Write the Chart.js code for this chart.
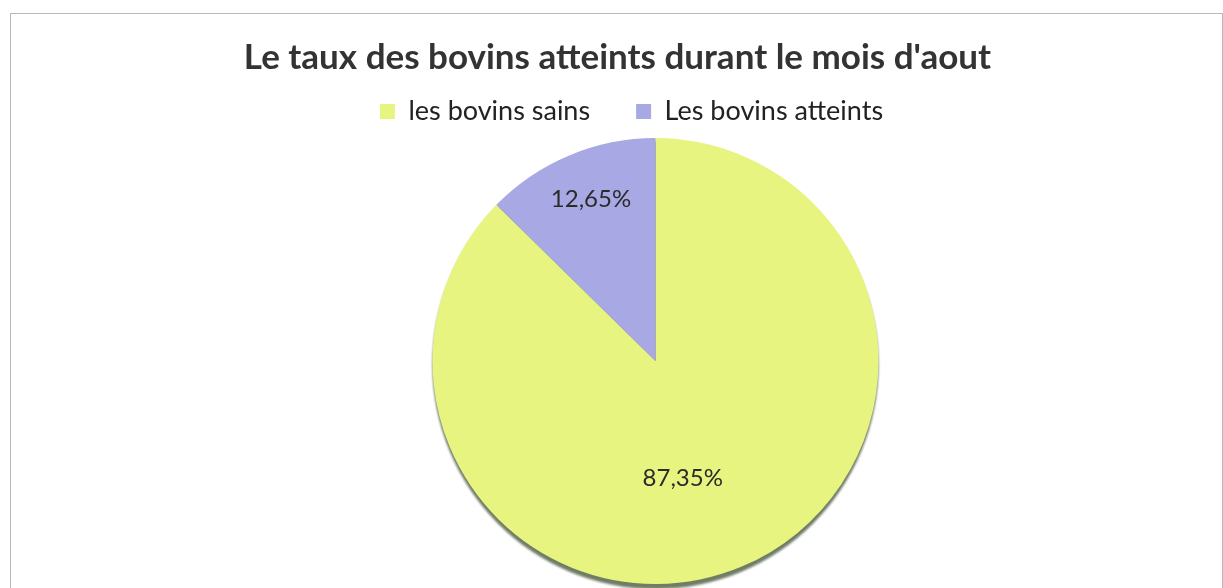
<!DOCTYPE html>
<html>
<head>
<meta charset="utf-8">
<title>Le taux des bovins atteints</title>
<script src="https://cdn.jsdelivr.net/npm/chart.js"></script>
<style>
  html, body { margin: 0; padding: 0; background: #fff; }
  #frame { position: absolute; left: 10px; top: 13px; width: 1211px; height: 620px; border: 1px solid #b8b8b8; }
  #wrap { position: absolute; left: 0; top: 0; width: 1223px; height: 588px; }
</style>
</head>
<body>
<div id="frame"></div>
<div id="wrap"><canvas id="myChart"></canvas></div>
<script>
var categories = ['les bovins sains', 'Les bovins atteints'];
var values = [87.35, 12.65];
var colors = ['#e7f47f', '#a8a8e4'];

// label placement (fraction of radius, angle nudge in degrees)
var labelRadius = [0.54, 0.78];
var labelNudge = [9.7, 1];

// small offsets of the boxes laid out by Chart.js
var titleShift = { x: 6, y: 1 };
var legendShift = { x: 20, y: 5 };
var pieShift = { x: 44, y: 4 };

function pct(v) {
    return v.toFixed(2).replace('.', ',') + '%';
}

function moveBox(box, s) {
    box.left += s.x; box.right += s.x;
    box.top += s.y; box.bottom += s.y;
}

var shiftPlugin = {
    id: 'shiftBoxes',
    afterLayout: function(chart) {
        moveBox(chart.chartArea, pieShift);
        if (chart.titleBlock) moveBox(chart.titleBlock, titleShift);
        if (chart.legend) moveBox(chart.legend, legendShift);
    }
};

var shadowPlugin = {
    id: 'pieShadow',
    beforeDatasetsDraw: function(chart) {
        var arc = chart.getDatasetMeta(0).data[0];
        if (!arc) return;
        var ctx = chart.ctx;
        ctx.save();
        ctx.fillStyle = 'rgba(95,110,85,0.9)';
        ctx.filter = 'blur(1px)';
        ctx.beginPath();
        ctx.ellipse(arc.x, arc.y + 4, arc.outerRadius, arc.outerRadius + 1, 0, 0, Math.PI * 2);
        ctx.fill();
        ctx.restore();
    }
};

var labelPlugin = {
    id: 'sliceLabels',
    afterDatasetsDraw: function(chart) {
        var ctx = chart.ctx;
        var meta = chart.getDatasetMeta(0);
        ctx.save();
        ctx.font = '24px Lato';
        ctx.fillStyle = '#2b2b2b';
        ctx.textAlign = 'center';
        ctx.textBaseline = 'middle';
        meta.data.forEach(function(arc, i) {
            var a = (arc.startAngle + arc.endAngle) / 2 + labelNudge[i] * Math.PI / 180;
            var r = arc.outerRadius * labelRadius[i];
            ctx.fillText(pct(values[i]), arc.x + Math.cos(a) * r, arc.y + Math.sin(a) * r);
        });
        ctx.restore();
    }
};

var ctx = document.getElementById('myChart').getContext('2d');
var myChart = new Chart(ctx, {
    type: 'pie',
    data: {
        labels: categories,
        datasets: [{
            data: values,
            backgroundColor: colors,
            borderWidth: 0,
            radius: 223
        }]
    },
    options: {
        responsive: true,
        maintainAspectRatio: false,
        animation: false,
        layout: { padding: { top: 0, bottom: 4, left: 0, right: 0 } },
        plugins: {
            title: {
                display: true,
                text: "Le taux des bovins atteints durant le mois d'aout",
                color: '#333',
                font: { family: 'Lato', size: 35, weight: 'bold' },
                padding: { top: 36, bottom: -31 }
            },
            legend: {
                display: true,
                position: 'top',
                labels: {
                    color: '#222',
                    font: { family: 'Lato', size: 27 },
                    boxWidth: 15,
                    boxHeight: 15,
                    padding: 46
                }
            },
            tooltip: { enabled: false }
        }
    },
    plugins: [shiftPlugin, shadowPlugin, labelPlugin]
});
</script>
</body>
</html>
